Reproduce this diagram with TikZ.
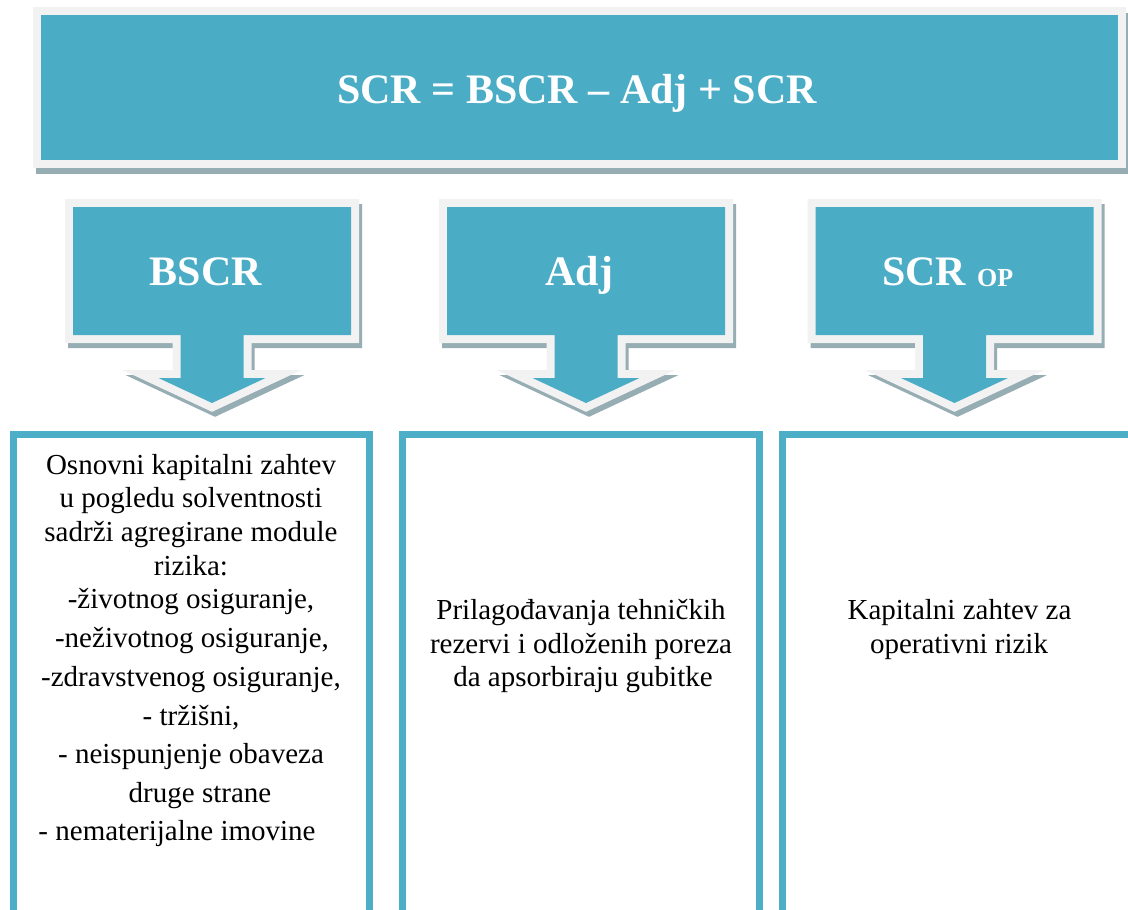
\documentclass[tikz,border=0pt]{standalone}
\usepackage{fontspec}
\setmainfont{Liberation Serif}
\definecolor{teal}{HTML}{4BACC6}
\definecolor{frame}{HTML}{F2F2F2}
\definecolor{shade}{HTML}{95ADB3}
\definecolor{boxline}{HTML}{4DAEC8}
\tikzset{
  bigtext/.style={text=white, font=\fontsize{42}{46}\selectfont\bfseries, inner sep=0pt, anchor=base},
  bodytext/.style={text=black, font=\fontsize{29}{33}\selectfont, inner sep=0pt, anchor=base},
  framestroke/.style={draw=frame, line width=16pt, line join=miter},
  shadestroke/.style={draw=shade, fill=shade, line width=16pt, line join=miter},
  boxborder/.style={draw=boxline, line width=7pt, line join=miter}
}
\newcommand\calloutpath[1]{({#1-139},207) -- ({#1+139},207) -- ({#1+139},335) -- ({#1+31.5},335) -- ({#1+31.5},378) -- ({#1+53.5},378) -- (#1,403) -- ({#1-53.5},378) -- ({#1-31.5},378) -- ({#1-31.5},335) -- ({#1-139},335) -- cycle}
\newcommand\drawcallout[1]{%
  \begin{scope}[shift={(3,5)}]\path[shadestroke] \calloutpath{#1};\end{scope}
  \path[framestroke, fill=teal] \calloutpath{#1};
  \fill[teal] \calloutpath{#1};
}
\begin{document}
\begin{tikzpicture}[x=1pt,y=-1pt]
\fill[white] (0,0) rectangle (1128,910);
\useasboundingbox (0,0) rectangle (1128,910);
\clip (0,0) rectangle (1128,910);
% top box
\path[shadestroke] (44,21) rectangle (1121,166);
\path[framestroke, fill=teal] (41,15) rectangle (1118,160);
\fill[teal] (41,15) rectangle (1118,160);
\node[bigtext] (formula) at (577,103) {SCR = BSCR – Adj + SCR};
% callouts
\drawcallout{212}
\drawcallout{586}
\drawcallout{954.5}
\node[bigtext] (bscr) at (206,285) {BSCR};
\node[bigtext] (adj) at (579.5,285) {Adj};
\node[bigtext, anchor=base west] (scrop) at (882,285) {SCR\hspace{11pt}\raisebox{-1.5pt}{\fontsize{26}{26}\selectfont OP}};
% text boxes
\draw[boxborder] (13.5,940) -- (13.5,434) -- (369.5,434) -- (369.5,940);
\draw[boxborder] (402.5,940) -- (402.5,434) -- (759,434) -- (759,940);
\draw[boxborder] (782.5,940) -- (782.5,434) -- (1140,434);
% left text
\node[bodytext] (l1) at (191,474) {Osnovni kapitalni zahtev};
\node[bodytext] (l2) at (191,507) {u pogledu solventnosti};
\node[bodytext] (l3) at (191,541) {sadrži agregirane module};
\node[bodytext] (l4) at (191,575) {rizika:};
\node[bodytext] (l5) at (191,608) {-životnog osiguranje,};
\node[bodytext] (l6) at (192,647) {-neživotnog osiguranje,};
\node[bodytext] (l7) at (191,686) {-zdravstvenog osiguranje,};
\node[bodytext] (l8) at (191,725) {- tržišni,};
\node[bodytext] (l9) at (191,763) {- neispunjenje obaveza};
\node[bodytext] (l10) at (200,802) {druge strane};
\node[bodytext] (l11) at (177,840) {- nematerijalne imovine};
% middle text
\node[bodytext] (m1) at (581,619) {Prilagođavanja tehničkih};
\node[bodytext] (m2) at (581,653) {rezervi i odloženih poreza};
\node[bodytext] (m3) at (583,686) {da apsorbiraju gubitke};
% right text
\node[bodytext] (r1) at (959.5,619) {Kapitalni zahtev za};
\node[bodytext] (r2) at (959,653) {operativni rizik};
\end{tikzpicture}
\end{document}
